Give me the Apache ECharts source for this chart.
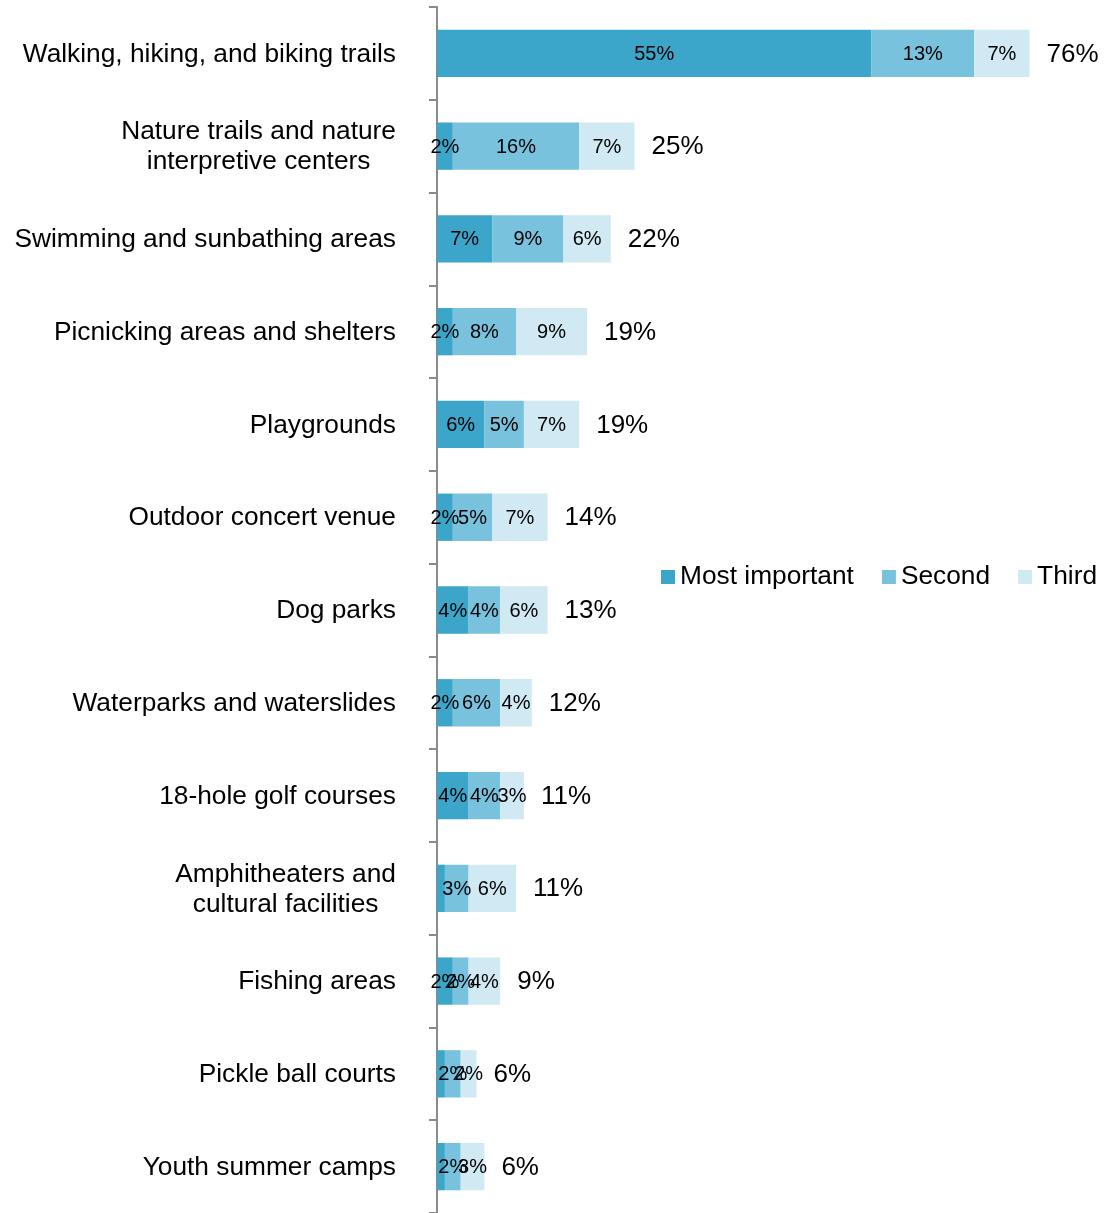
<!DOCTYPE html>
<html>
<head>
<meta charset="utf-8">
<script src="https://cdn.jsdelivr.net/npm/echarts@6/dist/echarts.min.js"></script>
<style>
html,body{margin:0;padding:0;background:#fff;}
#chart{width:1120px;height:1213px;}
</style>
</head>
<body>
<div id="chart"></div>
<script>
var categories = [
  "Walking, hiking, and biking trails",
  "Nature trails and nature\ninterpretive centers",
  "Swimming and sunbathing areas",
  "Picnicking areas and shelters",
  "Playgrounds",
  "Outdoor concert venue",
  "Dog parks",
  "Waterparks and waterslides",
  "18-hole golf courses",
  "Amphitheaters and\ncultural facilities",
  "Fishing areas",
  "Pickle ball courts",
  "Youth summer camps"
];
var mostImportant = [55, 2, 7, 2, 6, 2, 4, 2, 4, 1, 2, 1, 1];
var second        = [13, 16, 9, 8, 5, 5, 4, 6, 4, 3, 2, 2, 2];
var third         = [7, 7, 6, 9, 7, 7, 6, 4, 3, 6, 4, 2, 3];
var totals        = [76, 25, 22, 19, 19, 14, 13, 12, 11, 11, 9, 6, 6];

var FONT = "'Liberation Sans', Arial, sans-serif";
var colors = ['#3ca5ca', '#78c2dd', '#d0e9f2'];

function segLabel(p) {
  return p.value >= 1.5 ? p.value + '%' : '';
}
function mkSeries(name, data, color) {
  return {
    name: name, type: 'bar', stack: 'total', data: data, barWidth: '51%',
    itemStyle: { color: color },
    label: { show: true, position: 'inside', formatter: segLabel,
             color: '#000', fontSize: 20, fontFamily: FONT, offset: [0, 1] }
  };
}
var stackEnds = categories.map(function (c, i) {
  return [mostImportant[i] + second[i] + third[i], i];
});

var chart = echarts.init(document.getElementById('chart'), null, { renderer: 'canvas' });
chart.setOption({
  animation: false,
  backgroundColor: '#fff',
  grid: { left: 437, right: 51, top: 7, bottom: 0, containLabel: false },
  legend: {
    data: ['Most important', 'Second', 'Third'],
    left: 661, top: 564, padding: 0,
    icon: 'rect', itemWidth: 14, itemHeight: 14, itemGap: 28,
    textStyle: { fontSize: 26.3, color: '#000', fontFamily: FONT }
  },
  xAxis: { type: 'value', min: 0, max: 80, show: false },
  yAxis: {
    type: 'category', data: categories, inverse: true,
    axisLine: { lineStyle: { color: '#8a8a8a', width: 2 } },
    axisTick: { show: true, length: 8, lineStyle: { color: '#8a8a8a', width: 2 } },
    axisLabel: {
      margin: 41, color: '#000', fontSize: 26.3, fontFamily: FONT,
      formatter: function (v) {
        return v.split('\n').map(function (l) { return '{a|' + l + '}'; }).join('\n');
      },
      rich: { a: { align: 'center', fontSize: 26.3, lineHeight: 30, color: '#000', fontFamily: FONT, padding: [2, 0, 0, 0] } }
    }
  },
  series: [
    mkSeries('Most important', mostImportant, colors[0]),
    mkSeries('Second', second, colors[1]),
    mkSeries('Third', third, colors[2]),
    {
      name: 'Total', type: 'scatter', data: stackEnds, symbolSize: 0,
      itemStyle: { color: '#000' }, silent: true,
      label: {
        show: true, position: 'right', distance: 17, offset: [0, 1],
        formatter: function (p) { return totals[p.dataIndex] + '%'; },
        color: '#000', opacity: 1, fontSize: 26, fontFamily: FONT
      }
    }
  ]
});
</script>
</body>
</html>
